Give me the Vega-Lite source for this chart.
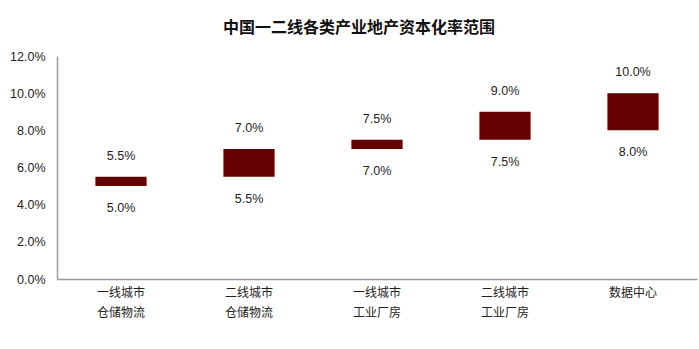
{
  "$schema": "https://vega.github.io/schema/vega-lite/v6.json",
  "autosize": {"type": "none"},
  "width": 640,
  "height": 223,
  "padding": {"left": 57, "top": 56, "right": 2, "bottom": 70},
  "background": "white",
  "title": {
    "text": "中国一二线各类产业地产资本化率范围",
    "font": "Noto Sans CJK SC",
    "fontSize": 16,
    "fontWeight": "bold",
    "color": "#111111",
    "anchor": "middle",
    "dx": -18,
    "offset": 14
  },
  "data": {
    "values": [
      {"cat": "一线城市 仓储物流", "low": 0.05, "high": 0.055},
      {"cat": "二线城市 仓储物流", "low": 0.055, "high": 0.07},
      {"cat": "一线城市 工业厂房", "low": 0.07, "high": 0.075},
      {"cat": "二线城市 工业厂房", "low": 0.075, "high": 0.09},
      {"cat": "数据中心", "low": 0.08, "high": 0.10}
    ]
  },
  "encoding": {
    "x": {
      "field": "cat",
      "type": "nominal",
      "sort": null,
      "scale": {"paddingInner": 0.6, "paddingOuter": 0.3},
      "axis": {
        "title": null,
        "labelAngle": 0,
        "labelExpr": "split(datum.label, ' ')",
        "labelFont": "Noto Sans CJK SC",
        "labelFontSize": 12,
        "labelColor": "#222222",
        "labelLineHeight": 20,
        "labelPadding": 8,
        "ticks": false,
        "domainColor": "#999999",
        "domainWidth": 1.5
      }
    }
  },
  "layer": [
    {
      "mark": {"type": "bar", "color": "#640000"},
      "encoding": {
        "y": {
          "field": "low",
          "type": "quantitative",
          "scale": {"domain": [0, 0.12]},
          "axis": {
            "title": null,
            "format": ".1%",
            "values": [0, 0.02, 0.04, 0.06, 0.08, 0.10, 0.12],
            "labelOverlap": false,
            "grid": false,
            "ticks": false,
            "labelFont": "Liberation Sans",
            "labelFontSize": 12.5,
            "labelColor": "#222222",
            "labelPadding": 12,
            "domainColor": "#999999",
            "domainWidth": 1.5
          }
        },
        "y2": {"field": "high"}
      }
    },
    {
      "mark": {"type": "text", "dy": -21, "font": "Liberation Sans", "fontSize": 12.5, "color": "#222222"},
      "encoding": {
        "y": {
          "field": "high",
          "type": "quantitative",
          "axis": {
            "title": null,
            "format": ".1%",
            "values": [0, 0.02, 0.04, 0.06, 0.08, 0.10, 0.12],
            "labelOverlap": false,
            "grid": false,
            "ticks": false,
            "labelFont": "Liberation Sans",
            "labelFontSize": 12.5,
            "labelColor": "#222222",
            "labelPadding": 12,
            "domainColor": "#999999",
            "domainWidth": 1.5
          }
        },
        "text": {"field": "high", "type": "quantitative", "format": ".1%"}
      }
    },
    {
      "mark": {"type": "text", "dy": 22, "font": "Liberation Sans", "fontSize": 12.5, "color": "#222222"},
      "encoding": {
        "y": {
          "field": "low",
          "type": "quantitative",
          "axis": {
            "title": null,
            "format": ".1%",
            "values": [0, 0.02, 0.04, 0.06, 0.08, 0.10, 0.12],
            "labelOverlap": false,
            "grid": false,
            "ticks": false,
            "labelFont": "Liberation Sans",
            "labelFontSize": 12.5,
            "labelColor": "#222222",
            "labelPadding": 12,
            "domainColor": "#999999",
            "domainWidth": 1.5
          }
        },
        "text": {"field": "low", "type": "quantitative", "format": ".1%"}
      }
    }
  ],
  "config": {"view": {"stroke": null}}
}
